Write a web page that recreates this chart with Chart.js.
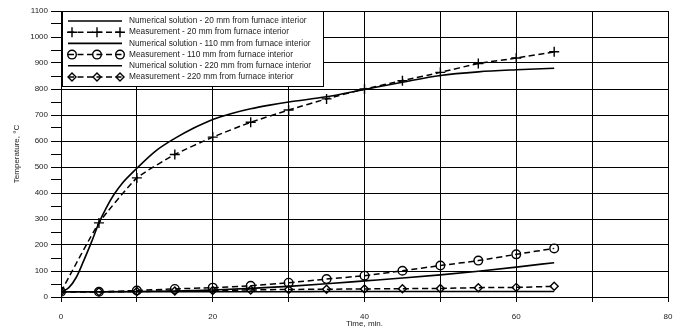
<!DOCTYPE html>
<html lang="en">
<head>
<meta charset="UTF-8">
<title>Temperature vs time</title>
<script src="https://cdn.jsdelivr.net/npm/chart.js"></script>
<style>
  body { margin: 0; background: #fff; }
  #wrap { width: 685px; height: 331px; }
</style>
</head>
<body>
<div id="wrap"><canvas id="chart" width="685" height="331"></canvas></div>
<script>
// measurements, every 5 min
const measTime = [0, 5, 10, 15, 20, 25, 30, 35, 40, 45, 50, 55, 60, 65];
const meas20  = [20, 285, 458, 548, 615, 672, 719, 762, 800, 832, 864, 898, 919, 943];
const meas110 = [20, 20, 25, 31, 36, 43, 55, 69, 82, 101, 121, 140, 164, 187];
const meas220 = [20, 20, 21, 23, 25, 27, 29, 30, 31, 32, 33, 36, 37, 41];

// numerical solutions
const numTime20 = [0, 1, 2, 3, 4, 5, 6, 7, 8, 10, 12.5, 15, 17.5, 20, 22.5, 25, 27.5, 30, 35, 40, 45, 50, 55, 60, 65];
const num20 = [20, 35, 75, 140, 210, 285, 345, 395, 435, 495, 562, 610, 650, 683, 706, 724, 738, 750, 770, 798, 826, 852, 866, 874, 880];
const numTime = [0, 5, 10, 15, 20, 25, 30, 35, 40, 45, 50, 55, 60, 65];
const num110 = [20, 20, 21, 23, 27, 33, 41, 51, 62, 73, 85, 99, 115, 132];
const num220 = [20, 20, 20, 20, 20, 20, 20, 21, 21, 21, 21, 21, 21, 21];

const seriesNames = [
    'Numerical solution - 20 mm from furnace interior',
    'Measurement - 20 mm from furnace interior',
    'Numerical solution - 110 mm from furnace interior',
    'Measurement - 110 mm from furnace interior',
    'Numerical solution - 220 mm from furnace interior',
    'Measurement - 220 mm from furnace interior'
];

function pts(xs, ys) {
    return xs.map((x, i) => ({x: x, y: ys[i]}));
}

function numSet(label, xs, ys) {
    return {label: label, data: pts(xs, ys), borderColor: '#000', borderWidth: 1.6,
        pointRadius: 0, cubicInterpolationMode: 'monotone', fill: false};
}

function measSet(label, ys, style, r) {
    return {label: label, data: pts(measTime, ys), borderColor: '#000', borderWidth: 1.5,
        borderDash: [6, 3.5], tension: 0.15, pointStyle: style, pointRadius: r,
        pointBorderWidth: 1.4, pointBorderColor: '#000', pointBackgroundColor: 'rgba(0,0,0,0)',
        fill: false};
}

// legend box drawn inside the plot, top left
const legendBox = {
    id: 'legendBox',
    afterDatasetsDraw(chart) {
        const ctx = chart.ctx, area = chart.chartArea;
        const x0 = area.left + 1, y0 = area.top, w = 261, h = 75, row = 11.2;
        ctx.save();
        ctx.fillStyle = '#fff';
        ctx.fillRect(x0, y0, w, h);
        ctx.strokeStyle = '#000';
        ctx.lineWidth = 1;
        ctx.strokeRect(x0 + 0.5, y0 + 0.5, w, h);
        chart.data.datasets.forEach((ds, i) => {
            const y = y0 + 10 + i * row;
            ctx.setLineDash(ds.borderDash || []);
            ctx.lineWidth = ds.borderWidth;
            ctx.strokeStyle = '#000';
            ctx.beginPath();
            ctx.moveTo(x0 + 6, y);
            ctx.lineTo(x0 + 60, y);
            ctx.stroke();
            ctx.setLineDash([]);
            if (ds.pointRadius > 0) {
                [x0 + 10, x0 + 35, x0 + 58].forEach(px => {
                    ctx.fillStyle = 'rgba(0,0,0,0)';
                    ctx.strokeStyle = '#000';
                    ctx.lineWidth = ds.pointBorderWidth;
                    Chart.helpers.drawPoint(ctx, {pointStyle: ds.pointStyle, radius: ds.pointRadius,
                        rotation: 0, borderWidth: ds.pointBorderWidth}, px, y);
                });
            }
            ctx.fillStyle = '#222';
            ctx.font = '8.3px "Liberation Sans", Arial, sans-serif';
            ctx.textBaseline = 'middle';
            ctx.textAlign = 'left';
            ctx.fillText(ds.label, x0 + 67, y);
        });
        ctx.restore();
    }
};

Chart.defaults.font.family = '"Liberation Sans", Arial, sans-serif';
Chart.defaults.font.size = 8;
Chart.defaults.color = '#222';

new Chart(document.getElementById('chart'), {
    type: 'line',
    data: {
        datasets: [
            numSet(seriesNames[0], numTime20, num20),
            measSet(seriesNames[1], meas20, 'cross', 5),
            numSet(seriesNames[2], numTime, num110),
            measSet(seriesNames[3], meas110, 'circle', 4.3),
            numSet(seriesNames[4], numTime, num220),
            measSet(seriesNames[5], meas220, 'rectRot', 4)
        ]
    },
    options: {
        responsive: false,
        animation: false,
        layout: {padding: {top: 11, right: 17, left: 12, bottom: 0}},
        plugins: {legend: {display: false}, tooltip: {enabled: false}},
        scales: {
            x: {
                type: 'linear', min: 0, max: 80,
                ticks: {stepSize: 10, autoSkip: false, maxRotation: 0, padding: 10,
                    callback: v => (v % 20 === 0 ? v : '')},
                grid: {color: '#000', lineWidth: 1, tickLength: 5},
                border: {color: '#000', width: 1},
                title: {display: true, text: 'Time, min.', padding: {top: 0, bottom: 2}},
                afterFit: s => { s.height = 34; }
            },
            y: {
                min: 0, max: 1100,
                ticks: {stepSize: 50, autoSkip: false, padding: 3,
                    callback: v => (v % 100 === 0 ? v : '')},
                grid: {color: c => (c.tick && c.tick.value % 100 === 0 ? '#000' : 'rgba(0,0,0,0)'),
                    tickColor: '#000', lineWidth: 1, tickLength: 10},
                border: {color: '#000', width: 1},
                title: {display: true, text: 'Temperature, °C', padding: 0},
                afterFit: s => { s.width = 49; }
            }
        }
    },
    plugins: [legendBox]
});
</script>
</body>
</html>
